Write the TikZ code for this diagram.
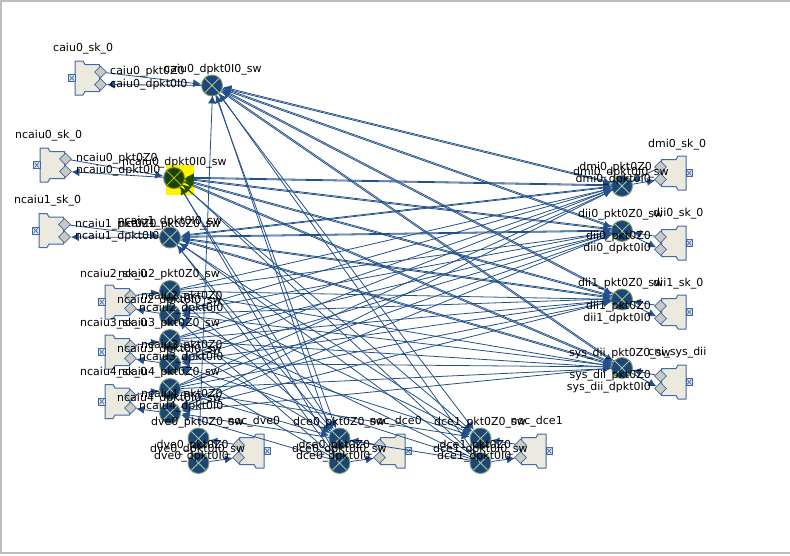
\documentclass[tikz,border=0pt]{standalone}
\usepackage{fontspec}
\setmainfont{DejaVu Sans}
\usetikzlibrary{arrows.meta,shapes.geometric}
\definecolor{wire}{HTML}{24508A}
\definecolor{swfill}{HTML}{1C4679}
\definecolor{swedge}{HTML}{7F9F6C}
\definecolor{swcross}{HTML}{A6C88C}
\definecolor{bodyfill}{HTML}{ECE9DF}
\definecolor{bodyedge}{HTML}{3F6AA3}
\definecolor{portfill}{HTML}{C9C9C1}
\definecolor{framegray}{HTML}{BDBDBD}
\tikzset{
  swnode/.style={circle,draw=swedge,line width=0.9pt,fill=swfill,minimum size=21pt,inner sep=0pt,
    path picture={\draw[swcross,line width=0.8pt]
      (path picture bounding box.south west)--(path picture bounding box.north east)
      (path picture bounding box.north west)--(path picture bounding box.south east);}},
  portnode/.style={diamond,draw=bodyedge,line width=0.7pt,fill=portfill,minimum size=12pt,inner sep=0pt},
  lbl/.style={inner sep=0pt,anchor=west,text height=8.5pt,text depth=2.5pt,font=\fontsize{11}{11}\selectfont},
  lbr/.style={lbl,anchor=east},
  meshhead/.style={line width=0.8pt,draw=wire,-{Latex[length=8pt,width=8pt,color=wire]}},
  meshtail/.style={line width=0.8pt,draw=wire,{Latex[length=8pt,width=8pt,color=wire]}-,transform canvas={xshift=0.8pt,yshift=1pt}},
}
\newcommand{\mksock}[4]{%
  \begin{scope}[shift={(#2,#3)},xscale=#4]
    \draw[bodyedge,line width=1pt,fill=bodyfill,line join=round]
      (0,-17)--(8,-17)--(10,-13.5)--(24.5,-13.5)--(24.5,13.5)--(10,13.5)--(8,17)--(0,17)--cycle;
    \draw[bodyedge,line width=1pt,fill=white!80!bodyedge] (-6.5,-3.5) rectangle (0,3.5);
    \draw[bodyedge,line width=0.6pt] (-5.5,-2.5)--(-1,2.5) (-5.5,2.5)--(-1,-2.5);
    \node[portnode] (#1p) at (25.5,-6) {};
    \node[portnode] (#1d) at (25.5,6.5) {};
  \end{scope}}
\begin{document}
\begin{tikzpicture}[x=1pt,y=-1pt]
\useasboundingbox (0,0) rectangle (790,555);
\draw[framegray,line width=1.2pt] (0,553)--(790,553) (1,553)--(1,1)--(790,1);
% sockets
\mksock{caiu}{75}{78}{1}
\mksock{nzero}{40}{165}{1}
\mksock{none}{39}{230.5}{1}
\mksock{ntwo}{105}{302}{1}
\mksock{nthree}{105}{352}{1}
\mksock{nfour}{105}{401.5}{1}
\mksock{dmi}{686}{173}{-1}
\mksock{diia}{686}{243}{-1}
\mksock{diib}{686}{312}{-1}
\mksock{sys}{686}{382}{-1}
\mksock{dve}{264}{451}{-1}
\mksock{dcea}{405}{451}{-1}
\mksock{dceb}{546}{451}{-1}
% switches
\node[swnode] (Scaiu) at (212,85.5) {};
\node[swnode] (Snzero) at (174,178) {};
\node[swnode] (Snone) at (170,237.5) {};
\node[swnode] (Pntwo) at (170,291) {};
\node[swnode] (Dntwo) at (170,315) {};
\node[swnode] (Pnthree) at (170,340) {};
\node[swnode] (Dnthree) at (170,364) {};
\node[swnode] (Pnfour) at (170,389) {};
\node[swnode] (Dnfour) at (170,413) {};
\node[swnode] (Pdve) at (198.5,438.5) {};
\node[swnode] (Ddve) at (198.5,463) {};
\node[swnode] (Pdcea) at (339.5,438.5) {};
\node[swnode] (Ddcea) at (339.5,463) {};
\node[swnode] (Pdceb) at (480.5,438.5) {};
\node[swnode] (Ddceb) at (480.5,463) {};
\node[swnode] (Sdmi) at (622,186) {};
\node[swnode] (Sdiia) at (622,231) {};
\node[swnode] (Sdiib) at (622,299.5) {};
\node[swnode] (Ssys) at (622,368) {};
% mesh
\foreach \a in {Scaiu,Snzero,Snone,Pntwo,Pnthree,Pnfour}
  \foreach \b in {Sdmi,Sdiia,Sdiib,Ssys,Pdcea,Pdceb}
    \draw[meshhead] (\a) -- (\b);
\foreach \a in {Scaiu,Snzero,Snone,Dntwo,Dnthree,Dnfour}
  \foreach \b in {Sdmi,Sdiia,Sdiib,Ssys,Ddcea,Ddceb}
    \draw[meshtail] (\a) -- (\b);
\draw[meshtail] (Scaiu) -- (Pdve);
% local links
\foreach \s/\w in {caiu/Scaiu,nzero/Snzero,none/Snone,ntwo/Pntwo,nthree/Pnthree,nfour/Pnfour}
  \draw[meshhead] (\s p) -- (\w);
\foreach \s/\w in {caiu/Scaiu,nzero/Snzero,none/Snone,ntwo/Dntwo,nthree/Dnthree,nfour/Dnfour}
  \draw[meshhead] (\w) -- (\s d);
\foreach \s/\w in {dmi/Sdmi,diia/Sdiia,diib/Sdiib,sys/Ssys,dve/Pdve,dcea/Pdcea,dceb/Pdceb}
  \draw[meshhead] (\s p) -- (\w);
\foreach \s/\w in {dmi/Sdmi,diia/Sdiia,diib/Sdiib,sys/Ssys,dve/Ddve,dcea/Ddcea,dceb/Ddceb}
  \draw[meshhead] (\w) -- (\s d);
% yellow selection
\fill[yellow,blend mode=multiply] (166,165) rectangle (194,195);
% labels: left side
\node[lbl] (t1) at (53,48) {caiu0\_sk\_0};
\node[lbl] (t2) at (110,71.5) {caiu0\_pkt0Z0};
\node[lbl] (t3) at (110,84) {caiu0\_dpkt0I0};
\node[lbl] (t4) at (164,69.5) {caiu0\_dpkt0I0\_sw};
\node[lbl] (t5) at (15,135) {ncaiu0\_sk\_0};
\node[lbl] (t6) at (76,158.5) {ncaiu0\_pkt0Z0};
\node[lbl] (t7) at (76,170.5) {ncaiu0\_dpkt0I0};
\node[lbl] (t8) at (122,162.5) {ncaiu0\_dpkt0I0\_sw};
\node[lbl] (t9) at (14,200) {ncaiu1\_sk\_0};
\node[lbl] (t10) at (75,224) {ncaiu1\_pkt0Z0};
\node[lbl] (t11) at (75,236.5) {ncaiu1\_dpkt0I0};
\node[lbl] (t12) at (117.5,221.5) {ncaiu1\_dpkt0I0\_sw};
\node[lbl] (t13) at (118.5,224.5) {ncaiu1\_pkt0Z0\_sw};
\foreach \k/\y in {2/0,3/49,4/98}{
  \node[lbl] (ska\k) at (80,274+\y) {ncaiu\k\_sk\_0};
  \node[lbl] (swp\k) at (118,274+\y) {ncaiu\k\_pkt0Z0\_sw};
  \node[lbl] (pk\k) at (141,296+\y) {ncaiu\k\_pkt0Z0};
  \node[lbl] (swd\k) at (117,300+\y) {ncaiu\k\_dpkt0I0\_sw};
  \node[lbl] (dp\k) at (139,308.5+\y) {ncaiu\k\_dpkt0I0};
}
% labels: right side
\node[lbl] (t14) at (648,144.5) {dmi0\_sk\_0};
\node[lbr] (t15) at (652,167) {dmi0\_pkt0Z0};
\node[lbl] (t16) at (573,172.5) {dmi0\_dpkt0I0\_sw};
\node[lbr] (t17) at (651,179) {dmi0\_dpkt0I0};
\node[lbl] (t18) at (578,214) {dii0\_pkt0Z0\_sw};
\node[lbl] (t19) at (653,213.5) {dii0\_sk\_0};
\node[lbr] (t20) at (651,236.5) {dii0\_pkt0Z0};
\node[lbr] (t21) at (651,248.5) {dii0\_dpkt0I0};
\node[lbl] (t22) at (578,283.5) {dii1\_pkt0Z0\_sw};
\node[lbl] (t23) at (653,283) {dii1\_sk\_0};
\node[lbr] (t24) at (651,306) {dii1\_pkt0Z0};
\node[lbr] (t25) at (651,318) {dii1\_dpkt0I0};
\node[lbl] (t26) at (569,353.5) {sys\_dii\_pkt0Z0\_sw};
\node[lbl] (t27) at (648,352.5) {cni\_sys\_dii};
\node[lbr] (t28) at (651,375.5) {sys\_dii\_pkt0Z0};
\node[lbr] (t29) at (651,387.5) {sys\_dii\_dpkt0I0};
% labels: bottom
\foreach \n/\k/\x in {dve0/a/0,dce0/b/142,dce1/c/283}{
  \node[lbl] (sw\k) at (151+\x,422.5) {\n\_pkt0Z0\_sw};
  \node[lbl] (no\k) at (227.5+\x,421.5) {noc\_\n};
  \node[lbl] (pk\k) at (156.5+\x,445) {\n\_pkt0Z0};
  \node[lbl] (sd\k) at (150+\x,449) {\n\_dpkt0I0\_sw};
  \node[lbl] (dp\k) at (154+\x,456.5) {\n\_dpkt0I0};
}
\end{tikzpicture}
\end{document}
